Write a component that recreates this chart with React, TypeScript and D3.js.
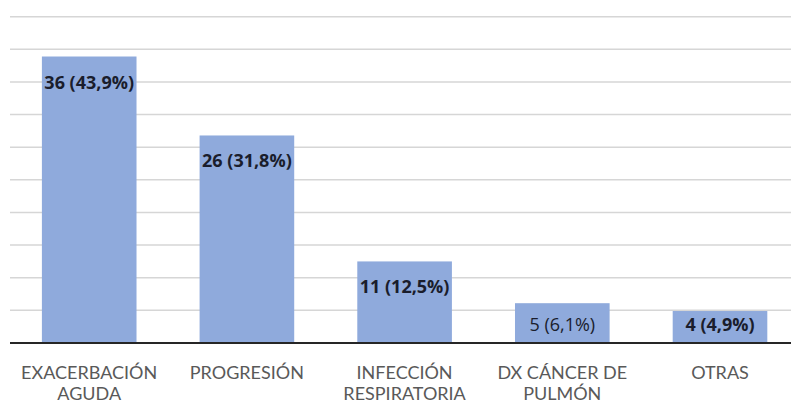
import React from 'react';
import * as d3 from 'd3';

const categories = [
  ['EXACERBACIÓN', 'AGUDA'],
  ['PROGRESIÓN'],
  ['INFECCIÓN', 'RESPIRATORIA'],
  ['DX CÁNCER DE', 'PULMÓN'],
  ['OTRAS'],
];
const counts = [36, 26, 11, 5, 4];
const percents = [43.9, 31.8, 12.5, 6.1, 4.9];
const boldLabel = [true, true, true, false, true];
const yTicks = [5, 10, 15, 20, 25, 30, 35, 40, 45, 50];

const W = 791;
const H = 404;
const FONT = '"Open Sans", "Noto Sans", sans-serif';
const CAT_FONT = 'Lato, "Open Sans", sans-serif';

const App: React.FC = () => {
  const x = d3.scaleBand<number>()
    .domain(d3.range(categories.length))
    .range([10.35, 798.85])
    .paddingInner(0.4)
    .paddingOuter(0.2);

  const y = d3.scaleLinear().domain([0, 50]).range([343, 16.7]);
  const axisY = y(0);

  return (
    <svg width={W} height={H} style={{ position: 'absolute', left: 0, top: 0, background: '#fff' }}>
      {/* gridlines */}
      {yTicks.map(t => (
        <line key={t} x1={10} x2={W} y1={y(t)} y2={y(t)} stroke="#d6d6d6" strokeWidth={1.5} />
      ))}

      {/* bars */}
      {percents.map((p, i) => (
        <rect key={i} x={x(i)} y={y(p)} width={x.bandwidth()} height={axisY - y(p)} fill="#8faadc" />
      ))}

      {/* axis */}
      <line x1={10} x2={W} y1={axisY} y2={axisY} stroke="#262626" strokeWidth={2} />

      {/* value labels */}
      {percents.map((p, i) => {
        const cy = Math.min(y(p) + 25, axisY - 19);
        return (
          <text key={i} x={(x(i) ?? 0) + x.bandwidth() / 2} y={cy} textAnchor="middle"
            dominantBaseline="central" fontFamily={FONT} fontSize={18}
            fontWeight={boldLabel[i] ? 700 : 400} fill="#1a1d2c">
            {`${counts[i]} (${p.toFixed(1).replace('.', ',')}%)`}
          </text>
        );
      })}

      {/* category labels */}
      {categories.map((lines, i) => (
        <text key={i} x={(x(i) ?? 0) + x.bandwidth() / 2} textAnchor="middle"
          fontFamily={CAT_FONT} fontSize={18} fill="#595959">
          {lines.map((l, j) => (
            <tspan key={j} x={(x(i) ?? 0) + x.bandwidth() / 2} y={378.5 + j * 21.6}>{l}</tspan>
          ))}
        </text>
      ))}
    </svg>
  );
};

export default App;
